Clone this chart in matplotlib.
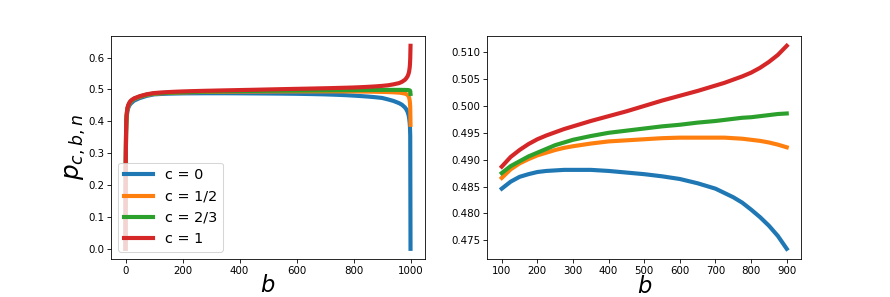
import numpy as np
import matplotlib
matplotlib.use("Agg")
import matplotlib.pyplot as plt

# b values for the zoomed middle part (right panel)
b_mid = [100, 125, 150, 175, 200, 225, 250, 275, 300, 350, 400, 450, 500,
         550, 600, 650, 700, 725, 750, 775, 800, 825, 850, 875, 900]
p0_mid = [0.4846, 0.4859, 0.4868, 0.4873, 0.4877, 0.4879, 0.4880, 0.4881, 0.4881,
          0.4881, 0.4879, 0.4876, 0.4873, 0.4869, 0.4864, 0.4856, 0.4846, 0.4838,
          0.4830, 0.4820, 0.4807, 0.4793, 0.4777, 0.4758, 0.4734]
p12_mid = [0.4866, 0.4882, 0.4893, 0.4901, 0.4908, 0.4913, 0.4918, 0.4922, 0.4925,
           0.4930, 0.4934, 0.4936, 0.4938, 0.4940, 0.4941, 0.4941, 0.4941, 0.4941,
           0.4940, 0.4939, 0.4937, 0.4935, 0.4932, 0.4928, 0.4923]
p23_mid = [0.4875, 0.4888, 0.4897, 0.4906, 0.4913, 0.4920, 0.4927, 0.4932, 0.4937,
           0.4944, 0.4950, 0.4954, 0.4958, 0.4962, 0.4965, 0.4969, 0.4972, 0.4974,
           0.4976, 0.4978, 0.4979, 0.4981, 0.4983, 0.4985, 0.4986]
p1_mid = [0.4887, 0.4905, 0.4918, 0.4929, 0.4938, 0.4945, 0.4951, 0.4957, 0.4962,
          0.4972, 0.4981, 0.4990, 0.5000, 0.5010, 0.5019, 0.5028, 0.5038, 0.5043,
          0.5049, 0.5055, 0.5062, 0.5071, 0.5082, 0.5095, 0.5112]

# edges of the full range (left panel)
b_low = [0, 1, 2, 3, 4, 5, 7, 10, 15, 20, 30, 50, 75]
p0_low = [0.0, 0.27, 0.36, 0.395, 0.41, 0.42, 0.433, 0.443, 0.452, 0.457, 0.465, 0.473, 0.480]
p12_low = [0.0, 0.275, 0.365, 0.40, 0.416, 0.426, 0.44, 0.449, 0.458, 0.463, 0.47, 0.477, 0.483]
p23_low = [0.0, 0.278, 0.368, 0.402, 0.418, 0.428, 0.441, 0.450, 0.459, 0.464, 0.471, 0.478, 0.484]
p1_low = [0.0, 0.28, 0.37, 0.405, 0.42, 0.43, 0.443, 0.452, 0.461, 0.466, 0.472, 0.479, 0.485]

b_high = [920, 940, 960, 970, 980, 985, 990, 993, 995, 997, 998, 999, 1000]
p0_high = [0.469, 0.464, 0.457, 0.452, 0.444, 0.438, 0.429, 0.420, 0.411, 0.396, 0.383, 0.355, 0.0]
p12_high = [0.4918, 0.4912, 0.490, 0.4888, 0.4870, 0.4855, 0.483, 0.479, 0.475, 0.466, 0.458, 0.443, 0.389]
p23_high = [0.4987, 0.4987, 0.4987, 0.4986, 0.4985, 0.4984, 0.4982, 0.4979, 0.4976, 0.497, 0.4965, 0.495, 0.486]
p1_high = [0.513, 0.516, 0.520, 0.524, 0.530, 0.535, 0.542, 0.549, 0.556, 0.568, 0.578, 0.597, 0.637]

labels = ["c = 0", "c = 1/2", "c = 2/3", "c = 1"]
mids = [p0_mid, p12_mid, p23_mid, p1_mid]
lows = [p0_low, p12_low, p23_low, p1_low]
highs = [p0_high, p12_high, p23_high, p1_high]

fig, (ax1, ax2) = plt.subplots(1, 2, figsize=(890/74.2, 297/74.2), dpi=74.2)
fig.subplots_adjust(left=0.125, right=0.9, top=0.88, bottom=0.128, wspace=0.2)

b_full = b_low + b_mid + b_high
for lab, lo, mi, hi in zip(labels, lows, mids, highs):
    ax1.plot(b_full, lo + mi + hi, lw=4, label=lab)
    ax2.plot(b_mid, mi, lw=4)

ax1.set_xlabel("$b$", fontsize=22, labelpad=-2)
ax1.set_ylabel("$p_{c,b,n}$", fontsize=24, labelpad=0)
ax1.legend(loc="lower left", fontsize=14)
ax2.set_xlabel("$b$", fontsize=22, labelpad=-1)
ax2.set_xticks(range(100, 1000, 100))

plt.savefig("out.png", dpi=74.2)
